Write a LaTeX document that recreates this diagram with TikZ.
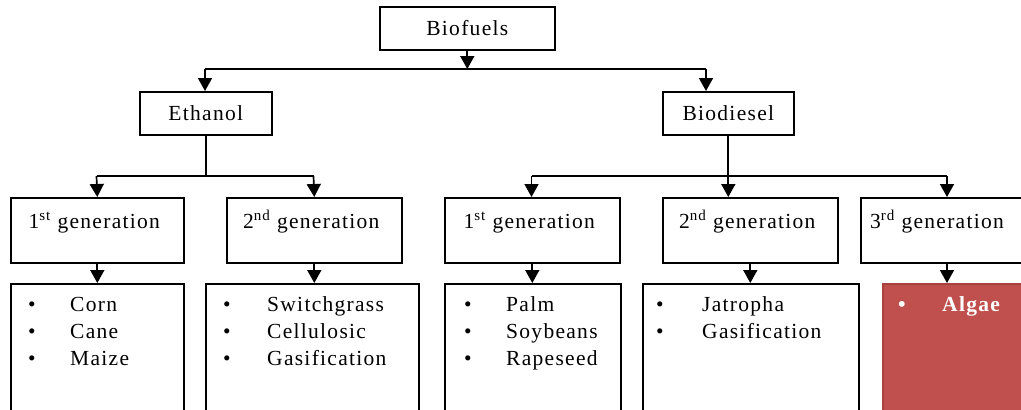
\documentclass[tikz,border=0pt]{standalone}
\usepackage{fontspec}
\setmainfont{Liberation Serif}[LetterSpace=6]
\usetikzlibrary{arrows.meta,calc}
\definecolor{algaered}{HTML}{C0504D}
\definecolor{algaeedge}{HTML}{A9423F}
\tikzset{
  box/.style={draw, line width=1.6pt, inner sep=0pt, anchor=north west, fill=white},
  lab/.style={inner sep=0pt, font=\fontsize{21.5}{27}\selectfont},
  genlab/.style={lab, anchor=base},
  item/.style={lab, anchor=base west},
  link/.style={line width=1.7pt},
  arr/.style={line width=1.7pt, -{Triangle[width=14pt,length=13pt]}},
}
\begin{document}
\begin{tikzpicture}[x=1pt,y=-1pt]
\path[use as bounding box] (0,0) rectangle (1021,410);
\clip (0,0) rectangle (1021,410);
% top level
\node[box, minimum width=175pt, minimum height=43pt, font=\fontsize{21.5}{27}\selectfont] (bio) at (379,6) {Biofuels};
\node[box, minimum width=132pt, minimum height=43pt, font=\fontsize{21.5}{27}\selectfont] (eth) at (139,91) {Ethanol\hspace{22pt}};
\node[box, minimum width=131pt, minimum height=43pt, font=\fontsize{21.5}{27}\selectfont] (bd) at (662,91) {Biodiesel};
% generation boxes
\node[box, minimum width=173pt, minimum height=65pt] (eg1) at (10,197) {};
\node[box, minimum width=175pt, minimum height=65pt] (eg2) at (226,197) {};
\node[box, minimum width=175pt, minimum height=65pt] (bg1) at (444,197) {};
\node[box, minimum width=175pt, minimum height=65pt] (bg2) at (662,197) {};
\node[box, minimum width=170pt, minimum height=65pt] (bg3) at (860,197) {};
\node[genlab] (eg1t) at ($(eg1.north)+(-3,31)$) {1\textsuperscript{st} generation};
\node[genlab] (eg2t) at ($(eg2.north)+(-3,31)$) {2\textsuperscript{nd} generation};
\node[genlab] (bg1t) at ($(bg1.north)+(-3,31)$) {1\textsuperscript{st} generation};
\node[genlab] (bg2t) at ($(bg2.north)+(-3,31)$) {2\textsuperscript{nd} generation};
\node[genlab, anchor=base west] (bg3t) at ($(bg3.north west)+(10,31)$) {3\textsuperscript{rd} generation};
% list boxes
\node[box, minimum width=173pt, minimum height=140pt] (l1) at (10,283) {};
\node[box, minimum width=213pt, minimum height=140pt] (l2) at (205,283) {};
\node[box, minimum width=176pt, minimum height=140pt] (l3) at (444,283) {};
\node[box, minimum width=216pt, minimum height=140pt] (l4) at (642,283) {};
\node[box, minimum width=150pt, minimum height=140pt, fill=algaered, draw=algaeedge] (l5) at (882,283) {};
% list items
\node[item] (l1a) at ($(l1.north west)+(18,28)$) {\makebox[42pt][l]{\textbullet}Corn};
\node[item] (l1b) at ($(l1.north west)+(18,55)$) {\makebox[42pt][l]{\textbullet}Cane};
\node[item] (l1c) at ($(l1.north west)+(18,82)$) {\makebox[42pt][l]{\textbullet}Maize};
\node[item] (l2a) at ($(l2.north west)+(18,28)$) {\makebox[44pt][l]{\textbullet}Switchgrass};
\node[item] (l2b) at ($(l2.north west)+(18,55)$) {\makebox[44pt][l]{\textbullet}Cellulosic};
\node[item] (l2c) at ($(l2.north west)+(18,82)$) {\makebox[44pt][l]{\textbullet}Gasification};
\node[item] (l3a) at ($(l3.north west)+(20,28)$) {\makebox[42pt][l]{\textbullet}Palm};
\node[item] (l3b) at ($(l3.north west)+(20,55)$) {\makebox[42pt][l]{\textbullet}Soybeans};
\node[item] (l3c) at ($(l3.north west)+(20,82)$) {\makebox[42pt][l]{\textbullet}Rapeseed};
\node[item] (l4a) at ($(l4.north west)+(14,28)$) {\makebox[46pt][l]{\textbullet}Jatropha};
\node[item] (l4b) at ($(l4.north west)+(14,55)$) {\makebox[46pt][l]{\textbullet}Gasification};
\node[item, text=white, font=\fontsize{21.5}{27}\selectfont\bfseries] (l5a) at ($(l5.north west)+(16,28)$) {\makebox[44pt][l]{\textbullet}Algae};
% connectors
\coordinate (h1l) at (205,69);
\coordinate (h1r) at (706,69);
\coordinate (h2l) at (96.5,176);
\coordinate (h2r) at (313.5,176);
\coordinate (h3l) at (531.5,176);
\coordinate (h3r) at (947,176);
\draw[link] (h1l) -- (h1r);
\draw[arr] (bio.south) -- (bio.south |- h1l);
\draw[arr] (h1l) -- (h1l |- eth.north);
\draw[arr] (h1r) -- (h1r |- bd.north);
\draw[link] (eth.south) -- (eth.south |- h2l);
\draw[link] (h2l) -- (h2r);
\draw[arr] (h2l) -- (eg1.north);
\draw[arr] (h2r) -- (eg2.north);
\draw[link] (h3l) -- (h3r);
\draw[arr] (bd.south) -- (bd.south |- bg2.north);
\draw[arr] (h3l) -- (h3l |- bg1.north);
\draw[arr] (h3r) -- (h3r |- bg3.north);
\draw[arr] (eg1.south) -- (eg1.south |- l1.north);
\draw[arr] (eg2.south) -- (eg2.south |- l2.north);
\draw[arr] (bg1.south) -- (bg1.south |- l3.north);
\draw[arr] (bg2.south) -- (bg2.south |- l4.north);
\draw[arr] (h3r |- bg3.south) -- (h3r |- l5.north);
\end{tikzpicture}
\end{document}
